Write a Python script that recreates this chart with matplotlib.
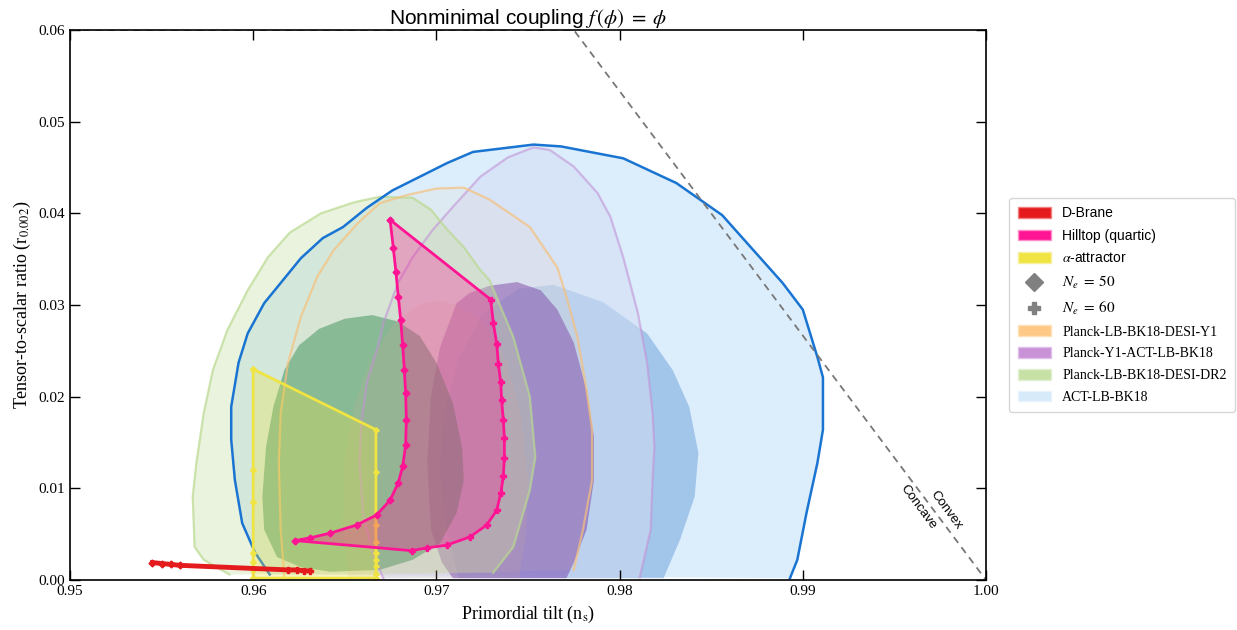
import numpy as np
import matplotlib.pyplot as plt
from matplotlib.patches import Patch
from matplotlib.lines import Line2D

plt.rcParams['mathtext.fontset'] = 'stix'
plt.rcParams['font.family'] = ['Liberation Serif', 'DejaVu Serif']

# ACT-LB-BK18
act95_ns = [0.9609, 0.9601, 0.9594, 0.9590, 0.9588, 0.9588, 0.9592, 0.9597, 0.9606, 0.9615,
            0.9626, 0.9638, 0.9649, 0.9662, 0.9676, 0.9691, 0.9706, 0.9720, 0.9753, 0.9768,
            0.9802, 0.9831, 0.9856, 0.9889, 0.9900, 0.9908, 0.9911, 0.9911, 0.9908, 0.9902,
            0.9897, 0.9893]
act95_r = [0.0006, 0.0030, 0.0062, 0.0109, 0.0153, 0.0189, 0.0237, 0.0269, 0.0302, 0.0324,
           0.0351, 0.0373, 0.0385, 0.0406, 0.0425, 0.0440, 0.0455, 0.0467, 0.0475, 0.0473,
           0.0460, 0.0433, 0.0398, 0.0324, 0.0295, 0.0243, 0.0221, 0.0164, 0.0128, 0.0073,
           0.0022, 0.0002]
act68_ns = [0.9712, 0.9705, 0.9702, 0.9704, 0.9712, 0.9725, 0.9745, 0.9764,
            0.9791, 0.9815, 0.9829, 0.9838, 0.9843, 0.9841, 0.9833, 0.9824]
act68_r = [0.0002, 0.0060, 0.0120, 0.0180, 0.0240, 0.0290, 0.0318, 0.0322,
           0.0303, 0.0269, 0.0229, 0.0189, 0.0139, 0.0091, 0.0044, 0.0002]

# Planck-LB-BK18-DESI-DR2
dr2_95_ns = [0.9587, 0.9573, 0.9568, 0.9567, 0.9569, 0.9573, 0.9578, 0.9586, 0.9597, 0.9608,
             0.9620, 0.9637, 0.9655, 0.9669, 0.9687, 0.9697, 0.9706, 0.9715, 0.9724, 0.9729,
             0.9742, 0.9751, 0.9754, 0.9751, 0.9742, 0.9731]
dr2_95_r = [0.0006, 0.0022, 0.0036, 0.0091, 0.0128, 0.0182, 0.0229, 0.0273, 0.0316, 0.0352,
            0.0379, 0.0400, 0.0412, 0.0418, 0.0417, 0.0404, 0.0382, 0.0363, 0.0338, 0.0327,
            0.0265, 0.0200, 0.0134, 0.0098, 0.0036, 0.0008]
dr2_68_ns = [0.9626, 0.9613, 0.9606, 0.9605, 0.9607, 0.9611, 0.9617, 0.9625, 0.9636, 0.9650,
             0.9665, 0.9679, 0.9691, 0.9700, 0.9709, 0.9714, 0.9715, 0.9711, 0.9702, 0.9687,
             0.9669, 0.9642]
dr2_68_r = [0.0014, 0.0025, 0.0055, 0.0091, 0.0145, 0.0189, 0.0229, 0.0256, 0.0274, 0.0285,
            0.0289, 0.0282, 0.0266, 0.0237, 0.0193, 0.0145, 0.0109, 0.0073, 0.0040, 0.0022,
            0.0011, 0.0009]

# Planck-LB-BK18-DESI-Y1
y1_95_ns = [0.9617, 0.9615, 0.9614, 0.9615, 0.9619, 0.9626, 0.9635, 0.9644, 0.9657, 0.9669,
            0.9684, 0.9700, 0.9715, 0.9729, 0.9751, 0.9766, 0.9771, 0.9777, 0.9782, 0.9785,
            0.9785, 0.9780, 0.9775]
y1_95_r = [0.0003, 0.0055, 0.0128, 0.0182, 0.0237, 0.0287, 0.0331, 0.0360, 0.0389, 0.0411,
           0.0420, 0.0427, 0.0428, 0.0415, 0.0385, 0.0341, 0.0309, 0.0265, 0.0207, 0.0164,
           0.0109, 0.0055, 0.0011]
y1_68_ns = [0.9652, 0.9649, 0.9650, 0.9655, 0.9664, 0.9677, 0.9690, 0.9700, 0.9712, 0.9726,
            0.9738, 0.9746, 0.9750, 0.9749, 0.9745]
y1_68_r = [0.0002, 0.0060, 0.0130, 0.0190, 0.0240, 0.0280, 0.0300, 0.0305, 0.0300, 0.0280,
           0.0240, 0.0180, 0.0110, 0.0050, 0.0002]

# Planck-Y1-ACT-LB-BK18
act_y1_95_ns = [0.9671, 0.9665, 0.9660, 0.9658, 0.9659, 0.9662, 0.9668, 0.9671, 0.9679, 0.9687,
                0.9698, 0.9709, 0.9724, 0.9739, 0.9753, 0.9762, 0.9775, 0.9788, 0.9795, 0.9802,
                0.9810, 0.9815, 0.9818, 0.9819, 0.9818, 0.9817, 0.9811]
act_y1_95_r = [0.0002, 0.0030, 0.0073, 0.0128, 0.0171, 0.0215, 0.0254, 0.0280, 0.0324, 0.0352,
               0.0382, 0.0407, 0.0440, 0.0461, 0.0472, 0.0469, 0.0451, 0.0422, 0.0396, 0.0352,
               0.0291, 0.0237, 0.0182, 0.0145, 0.0109, 0.0055, 0.0003]
act_y1_68_ns = [0.9709, 0.9703, 0.9697, 0.9695, 0.9697, 0.9702, 0.9711, 0.9718, 0.9729, 0.9744,
                0.9757, 0.9766, 0.9775, 0.9782, 0.9786, 0.9786, 0.9782, 0.9775, 0.9771]
act_y1_68_r = [0.0002, 0.0019, 0.0055, 0.0128, 0.0200, 0.0254, 0.0302, 0.0313, 0.0321, 0.0325,
               0.0316, 0.0295, 0.0259, 0.0207, 0.0156, 0.0109, 0.0055, 0.0019, 0.0002]

# ---- model predictions ----
dbrane50_ns = [0.9545, 0.9550, 0.9555, 0.9560]
dbrane50_r = [0.0019, 0.0018, 0.0017, 0.0016]
dbrane60_ns = [0.9619, 0.9624, 0.9628, 0.9631]
dbrane60_r = [0.0011, 0.0011, 0.0010, 0.0010]

hill50_ns = [0.96747, 0.96765, 0.96779, 0.96792, 0.96805, 0.96816, 0.96825, 0.96832, 0.96836,
             0.96832, 0.96816, 0.96792, 0.96747, 0.96674, 0.96565, 0.96419, 0.96310, 0.96228]
hill50_r = [0.0393, 0.0362, 0.0336, 0.0309, 0.0284, 0.0256, 0.0229, 0.0204, 0.0175,
            0.0147, 0.0124, 0.0106, 0.0087, 0.0071, 0.0060, 0.0051, 0.0046, 0.0043]
hill60_ns = [0.97296, 0.97311, 0.97329, 0.97338, 0.97351, 0.97356, 0.97365, 0.97371, 0.97371,
             0.97365, 0.97352, 0.97329, 0.97275, 0.97183, 0.97056, 0.96947, 0.96865]
hill60_r = [0.0306, 0.0280, 0.0258, 0.0236, 0.0216, 0.0196, 0.0175, 0.0155, 0.0133,
            0.0113, 0.0095, 0.0076, 0.0060, 0.0047, 0.0038, 0.0035, 0.0032]

alpha50_ns = [0.9600, 0.9600, 0.9600, 0.9600, 0.9600, 0.9600, 0.9600]
alpha50_r = [0.0230, 0.0120, 0.0085, 0.0029, 0.0020, 0.0011, 0.0002]
alpha60_ns = [0.9667, 0.9667, 0.9667, 0.9667, 0.9667, 0.9667, 0.9667, 0.9667, 0.9667]
alpha60_r = [0.0164, 0.0118, 0.0060, 0.0042, 0.0029, 0.0022, 0.0015, 0.0007, 0.0002]

convex_ns = [0.9500, 0.9775, 1.0000]
convex_r = [0.0600, 0.0600, 0.0000]

fig = plt.figure(figsize=(12.37, 6.30), dpi=100)
ax = fig.add_axes([70 / 1237, 50 / 630, 916 / 1237, 550 / 630])

# filled contours (bottom to top)
ax.fill(act95_ns, act95_r, color='#dcedfb', lw=0, zorder=1)
ax.fill(act68_ns, act68_r, color='#6a9fdb', alpha=0.5, lw=0, zorder=1.1)
ax.fill(act_y1_95_ns, act_y1_95_r, color='#d3dcf2', alpha=0.55, lw=0, zorder=1.2)
ax.fill(act_y1_68_ns, act_y1_68_r, color='#7a4bb2', alpha=0.55, lw=0, zorder=1.3)
ax.fill(dr2_95_ns, dr2_95_r, color='#c6e0a5', alpha=0.37, lw=0, zorder=1.4)
ax.fill(dr2_68_ns, dr2_68_r, color='#2e8b57', alpha=0.5, lw=0, zorder=1.5)
ax.fill(y1_95_ns, y1_95_r, color='#fec987', alpha=0.08, lw=0, zorder=1.6)
ax.fill(y1_68_ns, y1_68_r, color='#d9a98c', alpha=0.15, lw=0, zorder=1.7)

ax.plot(act_y1_95_ns, act_y1_95_r, color='#c293d8', alpha=0.6, lw=1.6, zorder=2)
ax.plot(dr2_95_ns, dr2_95_r, color='#b9d98f', alpha=0.7, lw=1.6, zorder=2)
ax.plot(y1_95_ns, y1_95_r, color='#f7c07a', alpha=0.7, lw=1.6, zorder=2)
ax.plot(act95_ns, act95_r, color='#1a74d2', lw=1.8, zorder=2.1)

# convex / concave boundary
ax.plot(convex_ns, convex_r, color='#777777', ls=(0, (4, 3)), lw=1.3, zorder=2.2)
ax.text(0.99785, 0.0076, 'Convex', rotation=-53.4, ha='center', va='center',
        fontsize=9.5, family='Liberation Sans', zorder=5)
ax.text(0.9963, 0.0080, 'Concave', rotation=-53.4, ha='center', va='center',
        fontsize=9.5, family='Liberation Sans', zorder=5)

# models
red, pink, yellow = '#e41a1c', '#ff1493', '#f0e442'

# alpha-attractor
ax.fill(alpha50_ns + alpha60_ns[::-1], alpha50_r + alpha60_r[::-1], color=yellow,
        alpha=0.3, lw=0, zorder=3)
ax.plot(alpha50_ns + alpha60_ns[::-1] + alpha50_ns[:1], alpha50_r + alpha60_r[::-1] + alpha50_r[:1],
        color=yellow, lw=2, zorder=3.1)
ax.plot(alpha50_ns, alpha50_r, ls='', marker='D', ms=3, color=yellow, zorder=3.2)
ax.plot(alpha60_ns, alpha60_r, ls='', marker='P', ms=3.5, color=yellow, zorder=3.2)

# hilltop
hx = hill50_ns + hill60_ns[::-1]
hy = hill50_r + hill60_r[::-1]
ax.fill(hx, hy, color=pink, alpha=0.3, lw=0, zorder=3.3)
ax.plot(hx + hx[:1], hy + hy[:1], color=pink, lw=2, zorder=3.4)
ax.plot(hill50_ns, hill50_r, ls='', marker='D', ms=3.5, color=pink, zorder=3.5)
ax.plot(hill60_ns, hill60_r, ls='', marker='P', ms=4, color=pink, zorder=3.5)

# D-brane
ax.plot(dbrane50_ns + dbrane60_ns, dbrane50_r + dbrane60_r, color=red, lw=3.5, zorder=3.6)
ax.plot(dbrane50_ns, dbrane50_r, ls='', marker='D', ms=3.5, color=red, zorder=3.7)
ax.plot(dbrane60_ns, dbrane60_r, ls='', marker='P', ms=4, color=red, zorder=3.7)

ax.set_xlim(0.95, 1.00)
ax.set_ylim(0.0, 0.06)
ax.set_xticks([0.95, 0.96, 0.97, 0.98, 0.99, 1.00])
ax.set_yticks([0.00, 0.01, 0.02, 0.03, 0.04, 0.05, 0.06])
ax.xaxis.set_major_formatter(plt.FormatStrFormatter('%.2f'))
ax.yaxis.set_major_formatter(plt.FormatStrFormatter('%.2f'))
ax.tick_params(direction='in', top=True, right=True, length=7, width=1, labelsize=11)
for s in ax.spines.values():
    s.set_linewidth(1.2)
    s.set_zorder(6)

ax.set_xlabel(r'Primordial tilt (n$_\mathrm{s}$)', fontsize=13)
ax.set_ylabel(r'Tensor-to-scalar ratio (r$_{0.002}$)', fontsize=13)
ax.set_title(r'Nonminimal coupling $f\,(\phi)\;=\;\phi$', fontsize=15,
             family='Liberation Sans', pad=4)

handles = [
    Patch(facecolor=red, edgecolor='#f08080', label='D-Brane'),
    Patch(facecolor=pink, edgecolor='#ff8cc8', label='Hilltop (quartic)'),
    Patch(facecolor=yellow, edgecolor='#f7f0a0', label=r'$\alpha$-attractor'),
    Line2D([], [], ls='', marker='D', ms=9, color='#808080', label=r'$N_e\;=\;50$'),
    Line2D([], [], ls='', marker='P', ms=9, color='#808080', label=r'$N_e\;=\;60$'),
    Patch(facecolor='#fec987', edgecolor='#ffe0b8', label='Planck-LB-BK18-DESI-Y1'),
    Patch(facecolor='#c991d6', edgecolor='#e0c0ea', label='Planck-Y1-ACT-LB-BK18'),
    Patch(facecolor='#c6e0a5', edgecolor='#e0f0d0', label='Planck-LB-BK18-DESI-DR2'),
    Patch(facecolor='#d6eafa', edgecolor='#eaf4fd', label='ACT-LB-BK18'),
]
leg = ax.legend(handles=handles, loc='center left', bbox_to_anchor=(1.018, 0.5),
                fontsize=10, handlelength=2.4, handleheight=0.8, labelspacing=0.62,
                handletextpad=0.8, borderpad=0.6, frameon=True)
for t in leg.get_texts()[:3]:
    t.set_family('Liberation Sans')
for t in leg.get_texts()[3:5]:
    t.set_fontsize(11)

fig.savefig('out.png', dpi=100)
